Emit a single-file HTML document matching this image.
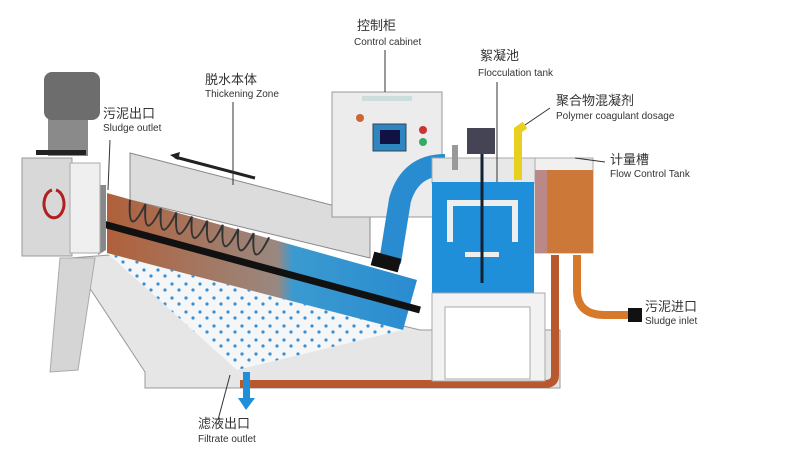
<!DOCTYPE html><html><head><style>body{margin:0;background:#fff}svg{display:block}
text{font-family:"Liberation Sans","Noto Sans CJK SC",sans-serif;fill:#333}</style></head><body>
<svg width="800" height="468" viewBox="0 0 800 468">
<defs>
<linearGradient id="dr" x1="0" x2="1"><stop offset="0" stop-color="#b0603a"/><stop offset=".55" stop-color="#9a8880"/><stop offset=".6" stop-color="#3a9ad0"/><stop offset="1" stop-color="#2a8cd0"/></linearGradient>
<pattern id="dots" width="14" height="14" patternUnits="userSpaceOnUse"><circle cx="4" cy="4" r="1.6" fill="#3b8fd0"/><circle cx="11" cy="10" r="1.6" fill="#3b8fd0"/></pattern>
</defs>
<polygon points="70,258 110,255 420,330 560,330 560,388 145,388 145,372" fill="#e6e6e6" stroke="#999"/>
<polygon points="107,253 403,330 237,370" fill="#f4f6f8"/>
<polygon points="107,253 403,330 237,370" fill="url(#dots)"/>
<polygon points="130,153 370,215 370,258 130,200" fill="#dcdcdc" stroke="#888"/>
<polygon points="107,193 417,280 403,330 107,253" fill="url(#dr)"/>
<line x1="70" y1="215" x2="420" y2="310" stroke="#111" stroke-width="7"/>
<path d="M130,200 q8,40 16,0 q8,40 16,0 q8,40 16,0 q8,40 16,0 q8,40 16,0 q8,40 16,0 q8,40 16,0 q8,40 16,0 q8,40 16,0" transform="rotate(15 130 200)" fill="none" stroke="#333" stroke-width="2"/>
<polygon points="98,185 106,185 106,250 98,255" fill="#888"/>
<line x1="175" y1="157" x2="255" y2="178" stroke="#222" stroke-width="3"/><polygon points="170,155 180,152 178,160" fill="#222"/>
<rect x="22" y="158" width="50" height="98" fill="#d8d8d8" stroke="#999"/>
<rect x="70" y="163" width="30" height="90" fill="#efefef" stroke="#aaa"/>
<path d="M52,190 a10,14 0 1 0 4,0" fill="none" stroke="#b02020" stroke-width="3"/>
<rect x="48" y="118" width="40" height="38" fill="#8a8a8a"/>
<rect x="44" y="72" width="56" height="48" rx="8" fill="#6d6d6d"/>
<rect x="36" y="150" width="50" height="5" fill="#222"/>
<polygon points="60,258 95,258 78,370 50,372" fill="#d5d5d5" stroke="#aaa"/>
<rect x="332" y="92" width="110" height="125" fill="#ececec" stroke="#999"/>
<rect x="362" y="96" width="50" height="5" fill="#cdd"/>
<rect x="373" y="124" width="33" height="27" fill="#2e86c1" stroke="#345"/>
<rect x="380" y="130" width="20" height="14" fill="#114"/>
<circle cx="360" cy="118" r="4" fill="#c63"/><circle cx="423" cy="130" r="4" fill="#c33"/><circle cx="423" cy="142" r="4" fill="#3a6"/>
<path d="M390,262 L400,200 Q410,165 445,165" fill="none" stroke="#2a8cd0" stroke-width="22"/>
<rect x="372" y="255" width="28" height="14" fill="#111" transform="rotate(15 386 262)"/>
<rect x="432" y="158" width="103" height="25" fill="#e8e8e8" stroke="#aaa"/>
<rect x="432" y="182" width="102" height="111" fill="#1e8fd8"/>
<path d="M450,242 V203 H515 V242" fill="none" stroke="#eee" stroke-width="6"/>
<rect x="465" y="252" width="34" height="5" fill="#eee"/>
<line x1="482" y1="152" x2="482" y2="283" stroke="#123" stroke-width="3"/>
<rect x="467" y="128" width="28" height="26" fill="#445"/>
<rect x="452" y="145" width="6" height="25" fill="#999"/>
<path d="M518,180 V130 L525,125" fill="none" stroke="#e8d020" stroke-width="8"/>
<rect x="535" y="158" width="58" height="95" fill="#f0f0f0" stroke="#aaa"/>
<rect x="535" y="170" width="58" height="83" fill="#cc7838"/>
<rect x="535" y="170" width="12" height="83" fill="#b88"/>
<path d="M555,255 V375 Q555,384 545,384 H240" fill="none" stroke="#b8582e" stroke-width="8"/>
<path d="M577,255 V290 Q577,315 605,315 H630" fill="none" stroke="#d8782a" stroke-width="8"/>
<rect x="628" y="308" width="14" height="14" fill="#111"/>
<rect x="432" y="293" width="113" height="88" fill="#f2f2f2" stroke="#aaa"/>
<rect x="445" y="307" width="85" height="72" fill="#fff" stroke="#aaa"/>
<rect x="243" y="372" width="7" height="28" fill="#1e8fd8"/><polygon points="238,398 255,398 246,410" fill="#1e8fd8"/>
<g stroke="#333" stroke-width="1">
<line x1="385" y1="50" x2="385" y2="92"/><line x1="233" y1="102" x2="233" y2="185"/>
<line x1="110" y1="140" x2="108" y2="190"/><line x1="497" y1="82" x2="497" y2="182"/>
<line x1="550" y1="108" x2="525" y2="125"/><line x1="575" y1="158" x2="605" y2="162"/>
<line x1="230" y1="375" x2="218" y2="420"/>
</g>
<g font-size="13"><text x="357" y="30">控制柜</text><text x="205" y="84">脱水本体</text><text x="103" y="118">污泥出口</text>
<text x="480" y="60">絮凝池</text><text x="556" y="105">聚合物混凝剂</text><text x="610" y="164">计量槽</text>
<text x="645" y="311">污泥进口</text><text x="198" y="428">滤液出口</text></g>
<g font-size="10"><text x="354" y="45">Control cabinet</text><text x="205" y="97">Thickening Zone</text><text x="103" y="131">Sludge outlet</text>
<text x="478" y="76">Flocculation tank</text><text x="556" y="119">Polymer coagulant dosage</text><text x="610" y="177">Flow Control Tank</text>
<text x="645" y="324">Sludge inlet</text><text x="198" y="442">Filtrate outlet</text></g>
</svg></body></html>
